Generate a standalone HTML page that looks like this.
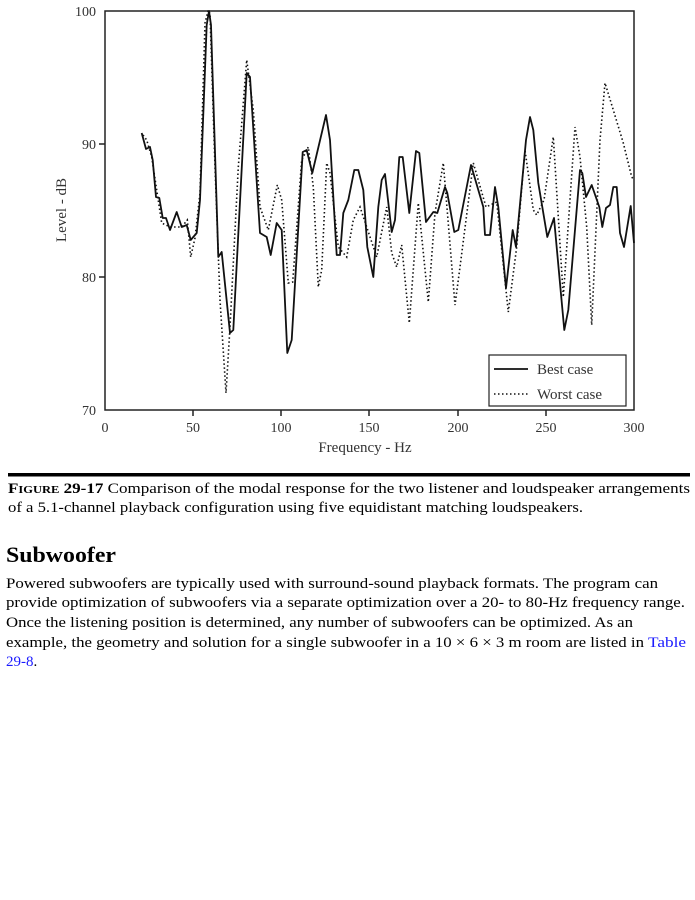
<!DOCTYPE html>
<html><head><meta charset="utf-8"><style>body{margin:0;background:#fff}svg{display:block}</style></head><body>
<svg width="695" height="900" xmlns="http://www.w3.org/2000/svg" font-family="Liberation Serif, serif">
<rect width="695" height="900" fill="#fff"/>
<g stroke="#222" stroke-width="1.5" fill="none">
<rect x="105" y="11" width="529" height="399"/>
<path d="M105,144h-6M105,277h-6M193,410v6M281,410v6M369,410v6M458,410v6M546,410v6"/>
</g>
<g font-size="14" fill="#333" text-anchor="end">
<text x="96" y="16">100</text><text x="96" y="149">90</text><text x="96" y="282">80</text><text x="96" y="415">70</text>
</g>
<g font-size="14" fill="#333" text-anchor="middle">
<text x="105" y="432">0</text><text x="193" y="432">50</text><text x="281" y="432">100</text><text x="369" y="432">150</text><text x="458" y="432">200</text><text x="546" y="432">250</text><text x="634" y="432">300</text>
<text x="365" y="452" font-size="15">Frequency - Hz</text>
<text transform="translate(66,210) rotate(-90)" font-size="15">Level - dB</text>
</g>
<path fill="none" stroke="#111" stroke-width="1.8" stroke-linejoin="round" d="M141.7,133 L146,149 150,147 152.7,160 156,197 159.3,198 162.7,218 166,218 170,230 176.7,212 181.7,227 186.7,225 190.7,240 196.7,233 200,200 206.7,25 209,11 211,25 218.3,257 221.7,252 230,333 233.3,330 246.7,73 250,77 260,233 266.7,237 270.7,255 276.7,223 281.7,230 287.3,353 291.7,340 302.7,152 306.7,150 312.3,173 326,115 330,140 336.7,255 340,255 343.3,213 348.3,200 354.3,170 358.3,170 363.3,190 367.3,247 373.3,277 378.3,207 381.7,180 385,174 391.7,232 395,220 399.3,157 402.7,157 409.3,213 416,151 419.3,153 426,222 433.3,212 437.3,213 445,187 447.3,193 454.3,232 458.3,230 471,165 483.3,207 485,235 490,235 495,187 498.3,207 506,288 512.7,230 516,247 526,140 530,117 533.3,130 538.3,183 547.3,237 554,218 564.3,330 568.3,310 580,170 582.3,173 586,197 591.7,185 599.3,207 602.3,227 606,208 610,205 613.3,187 616.7,187 620,233 624,247 630.7,206 634,243"/>
<path fill="none" stroke="#111" stroke-width="1.6" stroke-dasharray="1.5,2.5" d="M143,135 L146.7,140 151.7,157 161.7,223 170,227 181.7,227 187.3,220 190.7,257 195,238 200,193 205,23 208.3,10 210,14 215,167 220,300 226,393 230,327 238.3,167 246.7,60 253.3,110 260,207 268.3,230 277.3,185 281.7,200 288.3,283 292.7,282 301.7,160 308.3,147 313.3,187 318.3,287 321.7,270 326.7,163 330,173 338.3,247 346.7,257 353.3,220 360,207 366.7,227 376.7,257 386.7,207 391.7,253 396.7,267 401.7,245 409.3,323 418.3,203 428.3,302 435,213 443.3,163 455,305 460,267 473.3,163 486,207 496.7,202 508.3,312 516.7,247 525,150 533.3,210 536.7,215 544,200 553.3,137 563.3,297 575,127 580,157 586.7,227 591.7,325 600,140 605,83 613.3,110 623.3,143 631.7,177 634,180"/>
<rect x="489" y="355" width="137" height="51" fill="#fff" stroke="#222" stroke-width="1.2"/>
<path d="M494,369h34" stroke="#111" stroke-width="1.8"/>
<path d="M494,394h34" stroke="#111" stroke-width="1.6" stroke-dasharray="1.5,2.5"/>
<g font-size="15" fill="#333"><text x="537" y="374">Best case</text><text x="537" y="399">Worst case</text></g>
<rect x="8" y="473" width="682" height="3.5" fill="#000"/>
<g fill="#000" font-size="15">
<text x="8" y="493" textLength="682" lengthAdjust="spacingAndGlyphs"><tspan font-weight="bold">F<tspan font-size="11">IGURE</tspan> 29-17</tspan>   Comparison of the modal response for the two listener and loudspeaker arrangements</text>
<text x="8" y="512" textLength="575" lengthAdjust="spacingAndGlyphs">of a 5.1-channel playback configuration using five equidistant matching loudspeakers.</text>
<text x="6" y="562" font-size="22" font-weight="bold" textLength="110" lengthAdjust="spacingAndGlyphs">Subwoofer</text>
<text x="6" y="588" textLength="652" lengthAdjust="spacingAndGlyphs">Powered subwoofers are typically used with surround-sound playback formats. The program can</text>
<text x="6" y="607" textLength="679" lengthAdjust="spacingAndGlyphs">provide optimization of subwoofers via a separate optimization over a 20- to 80-Hz frequency range.</text>
<text x="6" y="627" textLength="627" lengthAdjust="spacingAndGlyphs">Once the listening position is determined, any number of subwoofers can be optimized. As an</text>
<text x="6" y="647" textLength="638" lengthAdjust="spacingAndGlyphs">example, the geometry and solution for a single subwoofer in a 10 × 6 × 3 m room are listed in</text>
<text x="648" y="647" fill="#1a1aff" textLength="38" lengthAdjust="spacingAndGlyphs">Table</text>
<text x="6" y="666"><tspan fill="#1a1aff">29-8</tspan>.</text>
</g>
</svg>
</body></html>
